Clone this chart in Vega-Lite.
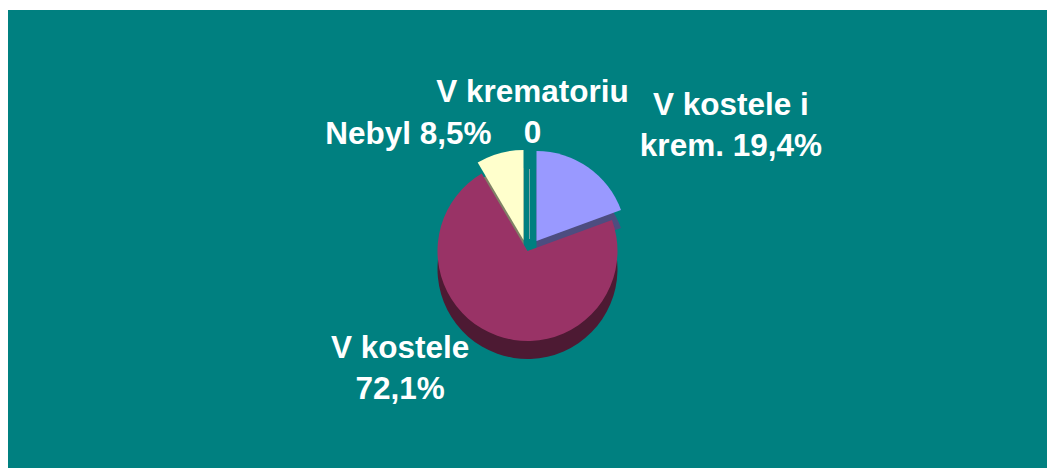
{
  "$schema": "https://vega.github.io/schema/vega-lite/v6.json",
  "autosize": {"type": "fit", "contains": "padding"},
  "width": 1047,
  "height": 468,
  "padding": {"left": 8, "top": 10, "right": 0, "bottom": 0},
  "background": "#FFFFFF",
  "view": {"fill": "#008080", "stroke": null},
  "config": {
    "text": {"font": "Liberation Sans", "fontWeight": "bold", "fontSize": 31.5, "fill": "#FFFFFF"}
  },
  "data": {
    "values": [
      {"cat": "V krematoriu", "value": 0, "order": 1, "label": "V krematoriu\n0"},
      {"cat": "V kostele i krem.", "value": 19.4, "order": 2, "label": "V kostele i\nkrem. 19,4%"},
      {"cat": "V kostele", "value": 72.1, "order": 3, "label": "V kostele\n72,1%"},
      {"cat": "Nebyl", "value": 8.5, "order": 4, "label": "Nebyl 8,5%"}
    ]
  },
  "layer": [
    {
      "transform": [
        {"stack": "value", "groupby": [], "sort": [{"field": "order", "order": "ascending"}], "as": ["v0", "v1"]},
        {"filter": "datum.cat === 'V kostele'"}
      ],
      "mark": {"type": "arc", "radius": 90, "fill": "#4D1A33", "yOffset": 30},
      "encoding": {
        "theta": {"field": "v0", "type": "quantitative", "scale": {"domain": [0, 100]}},
        "theta2": {"field": "v1"}
      }
    },
    {
      "transform": [
        {"stack": "value", "groupby": [], "sort": [{"field": "order", "order": "ascending"}], "as": ["v0", "v1"]},
        {"filter": "datum.cat === 'V kostele i krem.'"}
      ],
      "mark": {"type": "arc", "radius": 90, "fill": "#4D4D80", "xOffset": 9, "yOffset": 20},
      "encoding": {
        "theta": {"field": "v0", "type": "quantitative", "scale": {"domain": [0, 100]}},
        "theta2": {"field": "v1"}
      }
    },
    {
      "transform": [
        {"stack": "value", "groupby": [], "sort": [{"field": "order", "order": "ascending"}], "as": ["v0", "v1"]},
        {"filter": "datum.cat === 'Nebyl'"}
      ],
      "mark": {"type": "arc", "radius": 90, "fill": "#808066", "xOffset": -4, "yOffset": 19},
      "encoding": {
        "theta": {"field": "v0", "type": "quantitative", "scale": {"domain": [0, 100]}},
        "theta2": {"field": "v1"}
      }
    },
    {
      "transform": [
        {"stack": "value", "groupby": [], "sort": [{"field": "order", "order": "ascending"}], "as": ["v0", "v1"]},
        {"filter": "datum.cat === 'V kostele'"}
      ],
      "mark": {"type": "arc", "radius": 90, "fill": "#993366", "yOffset": 12},
      "encoding": {
        "theta": {"field": "v0", "type": "quantitative", "scale": {"domain": [0, 100]}},
        "theta2": {"field": "v1"}
      }
    },
    {
      "transform": [
        {"stack": "value", "groupby": [], "sort": [{"field": "order", "order": "ascending"}], "as": ["v0", "v1"]},
        {"filter": "datum.cat === 'V kostele i krem.'"}
      ],
      "mark": {"type": "arc", "radius": 90, "fill": "#9999FF", "xOffset": 9, "yOffset": 2},
      "encoding": {
        "theta": {"field": "v0", "type": "quantitative", "scale": {"domain": [0, 100]}},
        "theta2": {"field": "v1"}
      }
    },
    {
      "transform": [
        {"stack": "value", "groupby": [], "sort": [{"field": "order", "order": "ascending"}], "as": ["v0", "v1"]},
        {"filter": "datum.cat === 'Nebyl'"}
      ],
      "mark": {"type": "arc", "radius": 90, "fill": "#FFFFCC", "xOffset": -4, "yOffset": 1},
      "encoding": {
        "theta": {"field": "v0", "type": "quantitative", "scale": {"domain": [0, 100]}},
        "theta2": {"field": "v1"}
      }
    },
    {
      "transform": [
        {"stack": "value", "groupby": [], "sort": [{"field": "order", "order": "ascending"}], "as": ["v0", "v1"]},
        {"filter": "datum.cat === 'V krematoriu'"}
      ],
      "mark": {"type": "arc", "radius": 70, "fill": null, "stroke": "#7FA6A6", "strokeWidth": 1, "xOffset": 2, "yOffset": 0},
      "encoding": {
        "theta": {"field": "v0", "type": "quantitative", "scale": {"domain": [0, 100]}},
        "theta2": {"field": "v1"}
      }
    },
    {
      "mark": {"type": "text", "radius": 127, "lineBreak": "\n", "lineHeight": 41, "align": "center", "baseline": "middle", "dx": 5, "dy": -19},
      "encoding": {
        "theta": {"field": "value", "type": "quantitative", "stack": true, "scale": {"domain": [0, 100]}},
        "order": {"field": "order", "type": "quantitative"},
        "detail": {"field": "cat"},
        "text": {"condition": {"test": "datum.cat === 'V krematoriu'", "field": "label"}, "value": ""}
      }
    },
    {
      "mark": {"type": "text", "radius": 130, "lineBreak": "\n", "lineHeight": 41, "align": "center", "baseline": "middle", "dx": 129, "dy": -26},
      "encoding": {
        "theta": {"field": "value", "type": "quantitative", "stack": true, "scale": {"domain": [0, 100]}},
        "order": {"field": "order", "type": "quantitative"},
        "detail": {"field": "cat"},
        "text": {"condition": {"test": "datum.cat === 'V kostele i krem.'", "field": "label"}, "value": ""}
      }
    },
    {
      "mark": {"type": "text", "radius": 110, "lineBreak": "\n", "lineHeight": 41, "align": "center", "baseline": "middle", "dx": -90, "dy": 2},
      "encoding": {
        "theta": {"field": "value", "type": "quantitative", "stack": true, "scale": {"domain": [0, 100]}},
        "order": {"field": "order", "type": "quantitative"},
        "detail": {"field": "cat"},
        "text": {"condition": {"test": "datum.cat === 'Nebyl'", "field": "label"}, "value": ""}
      }
    },
    {
      "mark": {"type": "text", "radius": 135, "lineBreak": "\n", "lineHeight": 41, "align": "center", "baseline": "middle", "dx": -82, "dy": -17},
      "encoding": {
        "theta": {"field": "value", "type": "quantitative", "stack": true, "scale": {"domain": [0, 100]}},
        "order": {"field": "order", "type": "quantitative"},
        "detail": {"field": "cat"},
        "text": {"condition": {"test": "datum.cat === 'V kostele'", "field": "label"}, "value": ""}
      }
    }
  ]
}
